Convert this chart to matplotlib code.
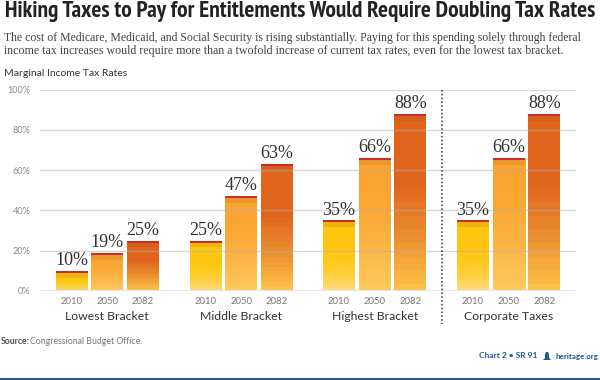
import numpy as np
from matplotlib import pyplot as plt
from matplotlib import font_manager as fm
from matplotlib.colors import LinearSegmentedColormap
from matplotlib.patches import Polygon, Rectangle

groups = ['Lowest Bracket', 'Middle Bracket', 'Highest Bracket', 'Corporate Taxes']
years = ['2010', '2050', '2082']
lowest = [10, 19, 25]
middle = [25, 47, 63]
highest = [35, 66, 88]
corporate = [35, 66, 88]
y_ticks = [0, 20, 40, 60, 80, 100]

W, H = 600, 380
BAR_W = 32
PITCH = 35.7
GROUP_STARTS = [55.5, 189.5, 323, 457]
UNIT = (291 - 89.5) / 100  # pixels per percent

# one colormap per year, bottom to top of the bar
cmaps = [
    LinearSegmentedColormap.from_list('y2010', [(0, '#FFD97C'), (.15, '#FFD24F'), (.35, '#FFCB22'), (.6, '#FFC60F'), (1, '#FFC60F')]),
    LinearSegmentedColormap.from_list('y2050', [(0, '#FFC85C'), (.3, '#FDB748'), (.6, '#FBA835'), (1, '#F9A330')]),
    LinearSegmentedColormap.from_list('y2082', [(0, '#FDC04A'), (.15, '#F5A83A'), (.3, '#EA8E30'), (.45, '#E57A28'), (.6, '#E0651C'), (1, '#E0651C')]),
]

fig = plt.figure(figsize=(6, 3.8), dpi=100)
ax = fig.add_axes([40 / W, 1 - 291 / H, (576 - 40) / W, (291 - 89.5) / H])
for s in ax.spines.values():
    s.set_visible(False)
ax.set_xticks([])
ax.set_yticks(y_ticks)
ax.set_yticklabels(['%d%%' % t for t in y_ticks], family='Lato', fontsize=6.6, color='#8a8a8a')
ax.tick_params(axis='y', length=0, pad=7)

for t in y_ticks:
    ax.axhline(t, color='#b0b0b0' if t else '#e6e6e6', lw=1.0 if t else 1.6, alpha=0.5 if t else 1, zorder=5)

values = [lowest, middle, highest, corporate]
grad = np.linspace(0, 1, 26)[::-1].reshape(-1, 1)
for g, start in enumerate(GROUP_STARTS):
    for i, v in enumerate(values[g]):
        x0 = start + i * PITCH
        bars = ax.bar(x0, v, width=BAR_W, align='edge', color='none', zorder=3)
        im = ax.imshow(grad, extent=(x0, x0 + BAR_W, 0, v), cmap=cmaps[i], vmin=0, vmax=1,
                       aspect='auto', interpolation='nearest', zorder=3)
        im.set_clip_path(bars[0])
        # dark stripe under the red cap
        ax.bar(x0, 2.6, bottom=v - 3.4, width=BAR_W, align='edge', color='#8a4a10', alpha=0.13, zorder=4)
        ax.bar(x0, 1.0, bottom=v - 1.0, width=BAR_W, align='edge', color='#CF2A27', zorder=4)
        ax.text(x0 + BAR_W / 2, v + 0.9, '%d%%' % v, ha='center', va='bottom', family='Liberation Serif',
                fontsize=13, color='#333333', zorder=6)
        ax.text(x0 + BAR_W / 2, -10 / UNIT, years[i], ha='center', va='center', family='Lato',
                fontsize=6.8, color='#777777', clip_on=False)
    ax.text(start + PITCH + BAR_W / 2, -26 / UNIT, groups[g], ha='center', va='center', family='Lato',
            fontsize=8.8, color='#333333', clip_on=False)
ax.set_xlim(40, 576)
ax.set_ylim(0, 100)

# dotted divider before corporate taxes
ax.plot([441.5, 441.5], [100, -33 / UNIT], color='#333333', lw=1.1, ls=(0, (1, 1.5)), clip_on=False, zorder=6)

# condensed bold title, sized to run the same width as the reference
installed = set(f.name for f in fm.fontManager.ttflist)
title_font = 'Liberation Sans'
for name in ['PT Sans Narrow', 'Archivo Narrow', 'Roboto Condensed', 'Liberation Sans Narrow']:
    if name in installed:
        title_font = name
        break
title = fig.text(5 / W, 1 - 12 / H, 'Hiking Taxes to Pay for Entitlements Would Require Doubling Tax Rates',
                 family=title_font, weight='bold', fontsize=16, color='#222222', va='center')
renderer = fig.canvas.get_renderer()
title.set_fontsize(16 * 591 / title.get_window_extent(renderer).width)

fig.text(4 / W, 1 - 38 / H, 'The cost of Medicare, Medicaid, and Social Security is rising substantially. Paying for this spending solely through federal',
         family='Liberation Serif', fontsize=8.5, color='#444444', va='center')
fig.text(4 / W, 1 - 51 / H, 'income tax increases would require more than a twofold increase of current tax rates, even for the lowest tax bracket.',
         family='Liberation Serif', fontsize=8.6, color='#444444', va='center')
fig.text(4 / W, 1 - 73 / H, 'Marginal Income Tax Rates', family='Lato', fontsize=7.5, color='#333333', va='center')
fig.text(1 / W, 1 - 341 / H, 'Source:', family='Lato', weight='bold', fontsize=6.3, color='#555555', va='center')
fig.text(30 / W, 1 - 341 / H, 'Congressional Budget Office.', family='Lato', fontsize=6.3, color='#777777', va='center')
fig.text(479 / W, 1 - 356 / H, 'Chart 2 • SR 91', family='Lato', weight='bold', fontsize=6.0, color='#1F5A96', va='center')
fig.text(556 / W, 1 - 356 / H, 'heritage.org', family='Lato', weight='bold', fontsize=5.8, color='#1F5A96', va='center')

# small bell logo and the blue rule along the bottom
bell = [(543, 360), (551, 360), (549, 358), (549, 354), (548, 352), (546, 352), (545, 354), (545, 358)]
fig.add_artist(Polygon([(x / W, 1 - y / H) for x, y in bell], transform=fig.transFigure, color='#1F5A96', lw=0))
fig.add_artist(Rectangle((0, 0), 1, 2.5 / H, transform=fig.transFigure, color='#1F5A96', lw=0))

fig.savefig('out.png', dpi=100)
